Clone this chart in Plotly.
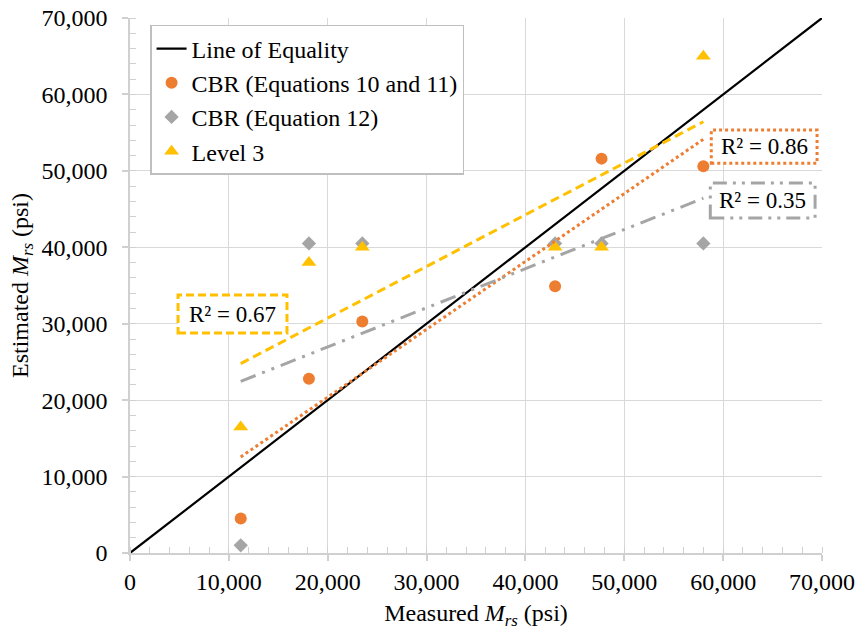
import numpy as np
import plotly.graph_objects as go

# ---- data ----
measured = [11200, 18100, 23500, 43000, 47700, 58000]
cbr_eq10_11 = [4500, 22800, 30300, 34900, 51600, 50600]
cbr_eq12 = [1000, 40500, 40500, 40500, 40500, 40500]
level3 = [16500, 38000, 40000, 40000, 40000, 65000]
equality_x = [0, 70000]
equality_y = [0, 70000]
r2_labels = ["R² = 0.86", "R² = 0.35", "R² = 0.67"]
tick_vals = [0, 10000, 20000, 30000, 40000, 50000, 60000, 70000]
tick_text = ["0", "10,000", "20,000", "30,000", "40,000", "50,000", "60,000", "70,000"]

ORANGE = "#ED7D31"
GRAY = "#A5A5A5"
YELLOW = "#FFC000"
FONT = "Liberation Serif"

def trend(x, y):
    m, b = np.polyfit(x, y, 1)
    xs = np.array([min(x), max(x)])
    return xs, m * xs + b

fig = go.Figure()

fig.add_trace(go.Scatter(x=equality_x, y=equality_y, mode="lines",
                         line=dict(color="black", width=2.2),
                         name="Line of Equality"))
fig.add_trace(go.Scatter(x=measured, y=cbr_eq10_11, mode="markers",
                         marker=dict(color=ORANGE, size=12, symbol="circle"),
                         name="CBR (Equations 10 and 11)"))
fig.add_trace(go.Scatter(x=measured, y=cbr_eq12, mode="markers",
                         marker=dict(color=GRAY, size=11, symbol="diamond"),
                         name="CBR (Equation 12)"))
fig.add_trace(go.Scatter(x=measured, y=level3, mode="markers",
                         marker=dict(color=YELLOW, size=13, symbol="triangle-up"),
                         name="Level 3"))

tx, ty = trend(measured, cbr_eq10_11)
fig.add_trace(go.Scatter(x=tx, y=ty, mode="lines", showlegend=False,
                         line=dict(color=ORANGE, width=3, dash="dot")))
tx, ty = trend(measured, cbr_eq12)
fig.add_trace(go.Scatter(x=tx, y=ty, mode="lines", showlegend=False,
                         line=dict(color=GRAY, width=3, dash="16px,7px,3px,7px,3px,7px")))
tx, ty = trend(measured, level3)
fig.add_trace(go.Scatter(x=tx, y=ty, mode="lines", showlegend=False,
                         line=dict(color=YELLOW, width=3, dash="9px,5px")))

# R² label boxes
boxes = [
    (58800, 69500, 51000, 55350, ORANGE, "dot"),
    (58700, 69300, 43830, 48410, GRAY, "14px,6px,3px,6px,3px,6px"),
    (4860, 15880, 28780, 33760, YELLOW, "8px,4px"),
]
for (x0, x1, y0, y1, col, dash), label in zip(boxes, r2_labels):
    fig.add_shape(type="rect", xref="x", yref="y", x0=x0, x1=x1, y0=y0, y1=y1,
                  line=dict(color=col, width=3, dash=dash), fillcolor="white", layer="above")
    fig.add_annotation(x=(x0 + x1) / 2, y=(y0 + y1) / 2, xref="x", yref="y",
                       text=label, showarrow=False,
                       font=dict(family=FONT, size=23, color="black"))

axis_common = dict(
    range=[0, 70000], tickvals=tick_vals, ticktext=tick_text,
    showgrid=True, gridcolor="#d9d9d9", gridwidth=1.3,
    showline=True, linecolor="#d0d0d0", linewidth=1.5, mirror=False,
    ticks="outside", ticklen=6, tickcolor="#d0d0d0", tickwidth=1.5,
    minor=dict(dtick=2000, ticks="inside", ticklen=6, tickcolor="#d0d0d0", tickwidth=1.2, showgrid=False),
    zeroline=False, automargin=False,
    tickfont=dict(family=FONT, size=24, color="black"),
)

fig.update_layout(
    width=862, height=630,
    margin=dict(l=130, r=40, t=18, b=77),
    paper_bgcolor="white", plot_bgcolor="white",
    font=dict(family=FONT, size=24, color="black"),
    xaxis=dict(**axis_common, ticklabelstandoff=0,
               title=dict(text="Measured <i>M<sub>rs</sub></i> (psi)",
                          font=dict(family=FONT, size=24), standoff=12)),
    yaxis=dict(**axis_common, ticklabelstandoff=10,
               title=dict(text="Estimated <i>M<sub>rs</sub></i> (psi)",
                          font=dict(family=FONT, size=24), standoff=6)),
    legend=dict(x=0.029, y=0.987, xanchor="left", yanchor="top",
                bgcolor="white", bordercolor="#bfbfbf", borderwidth=1.5,
                font=dict(family=FONT, size=24, color="black"),
                itemwidth=30, tracegroupgap=0),
    showlegend=True,
)

fig.write_html("out.html")
